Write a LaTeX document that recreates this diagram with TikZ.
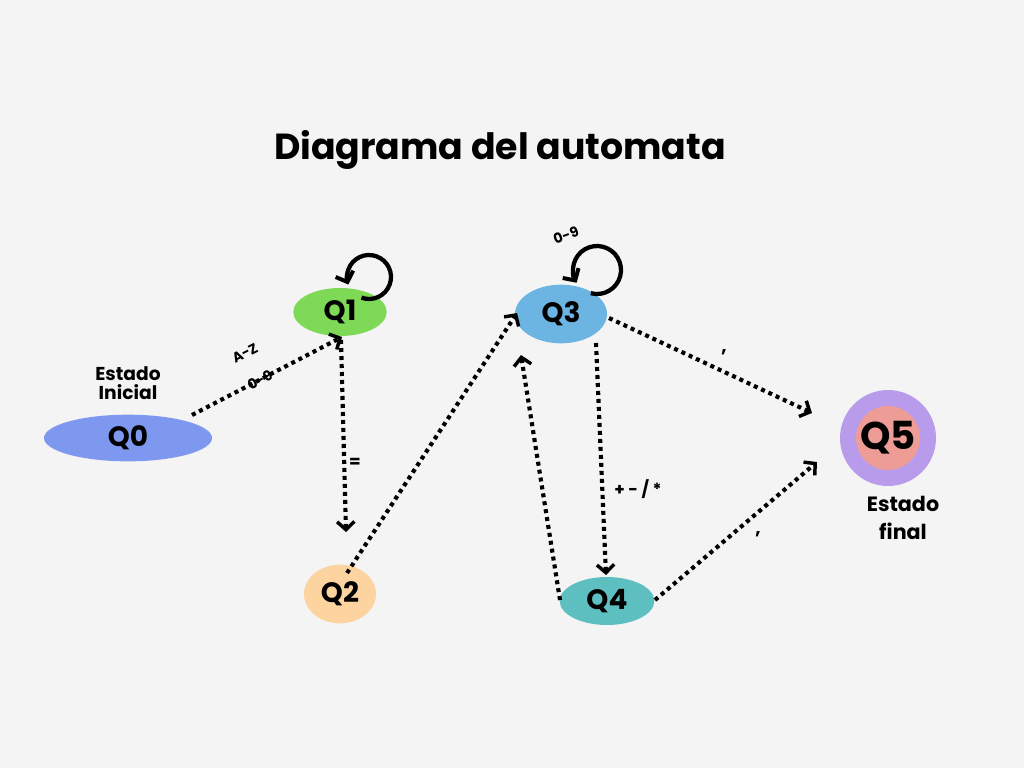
\documentclass[tikz,border=0pt]{standalone}
\usepackage{fontspec}
\setmainfont{Poppins}
\usetikzlibrary{arrows.meta,shapes.geometric}
\definecolor{bg}{HTML}{F4F4F4}
\definecolor{cq0}{HTML}{7E97EF}
\definecolor{cq1}{HTML}{7ED957}
\definecolor{cq2}{HTML}{FDD39F}
\definecolor{cq3}{HTML}{6CB4E1}
\definecolor{cq4}{HTML}{5EBFC1}
\definecolor{cq5o}{HTML}{B89CEB}
\definecolor{cq5i}{HTML}{EE9C96}
\tikzset{
  st/.style={ellipse,inner sep=0pt,font=\fontsize{21}{24}\selectfont\bfseries},
  dotarrow/.style={line width=3.1pt,dash pattern=on 3pt off 3pt,
    -{Straight Barb[length=6pt,width=13pt,line width=2.6pt]}},
  loopline/.style={line width=3.2pt,-{Straight Barb[length=6.5pt,width=14pt,line width=3pt]}},
  lbl/.style={font=\fontsize{10.5}{12}\selectfont\bfseries,inner sep=0pt},
  captxt/.style={font=\fontsize{14}{16}\selectfont\bfseries,align=center,inner sep=0pt},
}
\begin{document}
\begin{tikzpicture}[x=0.75pt,y=-0.75pt]
\fill[bg] (0,0) rectangle (1024,768);
\useasboundingbox (0,0) rectangle (1024,768);

\node[font=\fontsize{27.2}{32}\selectfont\bfseries] (title) at (500,150) {Diagrama del automata};

\node[st,fill=cq0,minimum width=126pt,minimum height=35pt] (q0) at (128,438) {Q0};
\node[st,fill=cq1,minimum width=70pt,minimum height=36pt] (q1) at (340,312) {Q1};
\node[st,fill=cq2,minimum width=54pt,minimum height=44pt] (q2) at (340,594) {Q2};
\node[st,fill=cq3,minimum width=69pt,minimum height=44pt] (q3) at (561,314) {Q3};
\node[st,fill=cq4,minimum width=71pt,minimum height=36pt] (q4) at (607,601) {Q4};
\node[circle,fill=cq5o,minimum size=72pt,inner sep=0pt] (q5o) at (888,438) {};
\node[circle,fill=cq5i,minimum size=48pt,inner sep=-6pt,font=\fontsize{29}{32}\selectfont\bfseries] (q5) at (888,438) {Q5};

\node[captxt] (ini) at (128,383) {Estado\\[-2pt]Inicial};
\node[captxt,font=\fontsize{15.5}{21.5}\selectfont\bfseries] (fin) at (903,518) {Estado\\final};

% loops
\draw[loopline] ([shift={(29,-35)}]q1.center) ++(110:22) arc[start angle=110,end angle=-200,radius=22];
\draw[loopline] ([shift={(36,-44)}]q3.center) ++(105:24) arc[start angle=105,end angle=-212,radius=24];
\node[lbl,rotate=20] (l39) at (566,235) {0-9};

% transitions
\draw[dotarrow] ([shift={(64,-23)}]q0.center) -- ([shift={(2,25)}]q1.center);
\node[lbl,rotate=27] (laz) at (245,353) {A-Z};
\node[lbl,rotate=27] (l09) at (260,380) {0-9};

\draw[dotarrow] ([shift={(1,28)}]q1.center) -- ([shift={(6,-62)}]q2.center);
\node[lbl,font=\fontsize{12.5}{14}\selectfont\bfseries] (leq) at (355,463) {=};

\draw[dotarrow] ([shift={(7,-21)}]q2.center) -- ([shift={(-44,-1)}]q3.center);

\draw[dotarrow] ([shift={(48,4)}]q3.center) -- ([shift={(-76,-25)}]q5.center);
\node[lbl,font=\fontsize{14}{16}\selectfont\bfseries] (lc1) at (724,352) {,};

\draw[dotarrow] ([shift={(35,29)}]q3.center) -- ([shift={(-1,-26)}]q4.center);
\node[lbl,font=\fontsize{12.5}{14}\selectfont\bfseries] (lop) at (638,489) {+ - / *};

\draw[dotarrow] ([shift={(-47,-1)}]q4.center) -- ([shift={(-40,41)}]q3.center);

\draw[dotarrow] ([shift={(48,-1)}]q4.center) -- ([shift={(-71,24)}]q5.center);
\node[lbl,font=\fontsize{14}{16}\selectfont\bfseries] (lc2) at (758,534) {,};
\end{tikzpicture}
\end{document}
